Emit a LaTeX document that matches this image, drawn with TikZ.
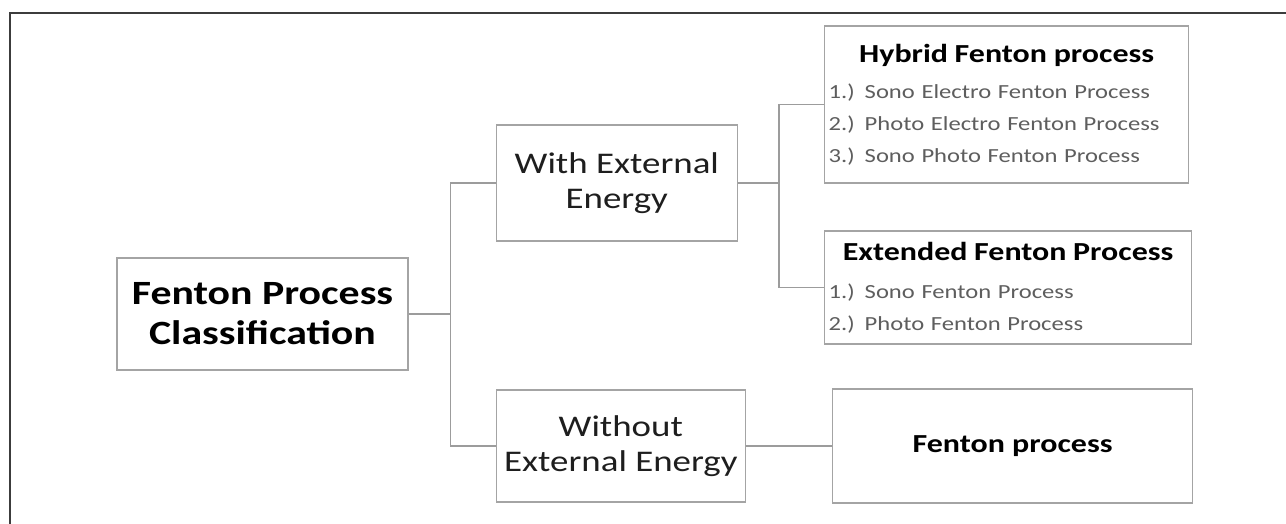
\documentclass[tikz,border=0pt]{standalone}
\usepackage{fontspec}
\setmainfont{Carlito}[FakeStretch=1.23]
\usetikzlibrary{positioning}

\definecolor{boxgray}{HTML}{A4A4A4}
\definecolor{linegray}{HTML}{9C9C9C}
\definecolor{framegray}{HTML}{3C3C3C}
\definecolor{textdark}{HTML}{1E1E1E}
\definecolor{itemgray}{HTML}{5E5E5E}

\tikzset{
  box/.style={draw=boxgray, line width=1.3pt, fill=white, inner sep=4pt, align=center},
  rootbox/.style={box, minimum width=291pt, minimum height=112pt, font=\fontsize{34}{40}\selectfont\bfseries},
  catbox/.style={box, font=\fontsize{30}{35}\selectfont, text=textdark},
  listbox/.style={box, align=left, font=\fontsize{20}{32}\selectfont, text=itemgray},
  link/.style={draw=linegray, line width=1.3pt},
}
\newcommand{\boxtitle}[1]{\makebox[\hsize]{\fontsize{26}{32}\selectfont\bfseries\color{black}#1}}

\begin{document}
\begin{tikzpicture}[x=1pt, y=1pt]
\useasboundingbox (0,0) rectangle (1286,524);
\fill[white] (0,0) rectangle (1286,524);
\draw[framegray, line width=2.4pt] (10,0) -- (10,511) -- (1286,511);

%% classification root
\node[rootbox](root) at (262.5,210) {Fenton Process\\Classification};

%% energy categories
\node[catbox, minimum width=241pt, minimum height=116pt, right=87pt of root, yshift=131pt](with_energy){With External\\Energy};
\node[catbox, minimum width=249pt, minimum height=112pt, right=87pt of root, yshift=-132pt](without_energy){Without\\External Energy};

%% process lists
\node[listbox, text width=356pt, minimum height=157pt, right=86pt of with_energy, yshift=78.5pt](hybrid){%
\boxtitle{Hybrid Fenton process}\\[4pt]
1.) Sono Electro Fenton Process\\
2.) Photo Electro Fenton Process\\
3.) Sono Photo Fenton Process};
\node[listbox, text width=359pt, minimum height=113pt, right=86pt of with_energy, yshift=-104.5pt](extended){%
\boxtitle{Extended Fenton Process}\\[6pt]
1.) Sono Fenton Process\\
2.) Photo Fenton Process};
\node[box, minimum width=360pt, minimum height=114pt, right=86pt of without_energy, font=\fontsize{26}{32}\selectfont\bfseries](fenton){Fenton process};

%% connectors
\draw[link] (root.east) -- ++(42pt,0) coordinate(fork_root);
\draw[link] (with_energy.west) -| (fork_root) |- (without_energy.west);
\draw[link] (with_energy.east) -- ++(41pt,0) coordinate(fork_with);
\draw[link] (hybrid.west) -| (fork_with) |- (extended.west);
\draw[link] (without_energy) -- (fenton);

\end{tikzpicture}
\end{document}
